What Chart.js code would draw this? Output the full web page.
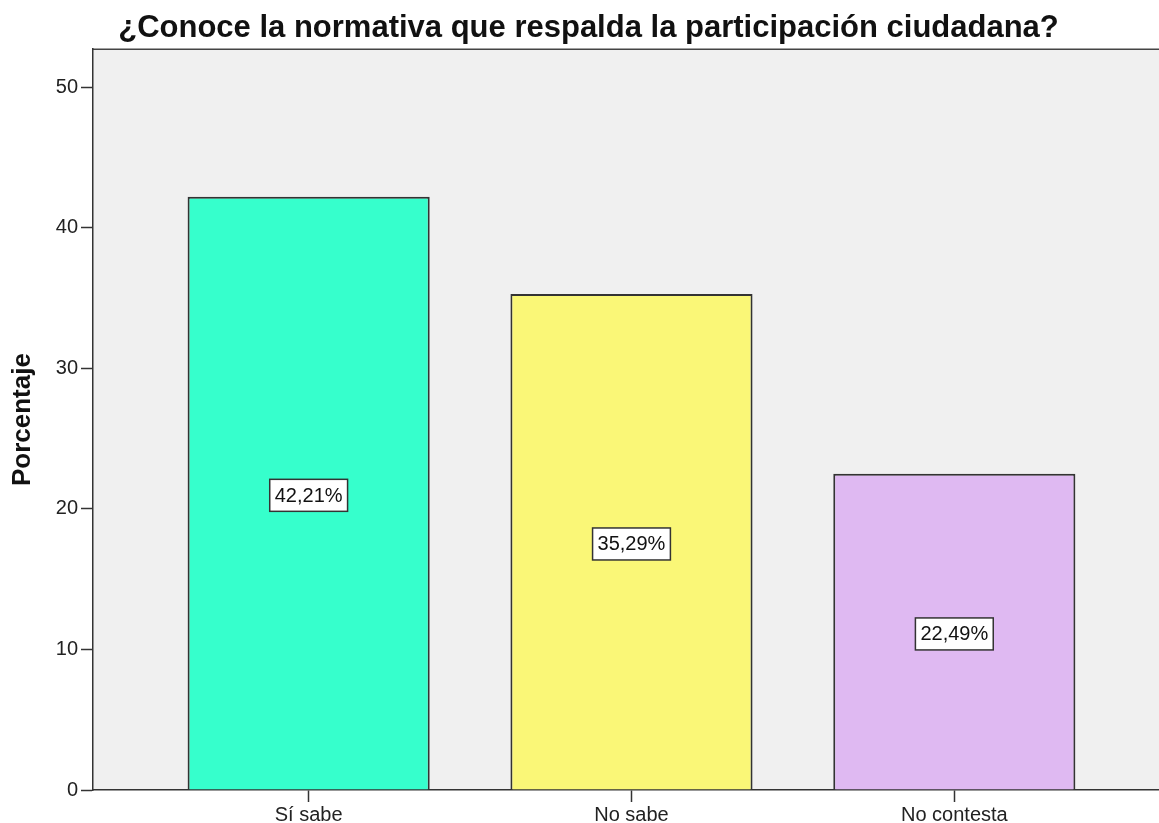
<!DOCTYPE html>
<html>
<head>
<meta charset="utf-8">
<script src="https://cdn.jsdelivr.net/npm/chart.js@4.4.0/dist/chart.umd.min.js"></script>
<style>
  html, body { margin: 0; padding: 0; background: #fff; overflow: hidden; }
  #wrap { width: 1159px; height: 823px; }
</style>
</head>
<body>
<div id="wrap"><canvas id="myChart"></canvas></div>
<script>
var categories = ['Sí sabe', 'No sabe', 'No contesta'];
var percentages = [42.21, 35.29, 22.49];
var barColors = ['#36ffcc', '#faf777', '#dfb9f2'];
var yTicks = [0, 10, 20, 30, 40, 50];

var FONT = "'Liberation Sans', Arial, sans-serif";

// gray plot box behind the bars, with the top edge line
var plotBox = {
  id: 'plotBox',
  beforeDraw: function(chart) {
    var a = chart.chartArea, c = chart.ctx;
    c.save();
    c.fillStyle = '#f0f0f0';
    c.fillRect(a.left, a.top, a.right - a.left, a.bottom - a.top);
    c.strokeStyle = '#444';
    c.lineWidth = 1.5;
    c.beginPath();
    c.moveTo(a.left, a.top);
    c.lineTo(a.right, a.top);
    c.stroke();
    c.restore();
  }
};

// boxed percentage label in the middle of each bar
var midLabels = {
  id: 'midLabels',
  afterDatasetsDraw: function(chart) {
    var c = chart.ctx, yScale = chart.scales.y;
    var meta = chart.getDatasetMeta(0);
    c.save();
    c.font = '20px ' + FONT;
    c.textAlign = 'center';
    c.textBaseline = 'middle';
    meta.data.forEach(function(bar, i) {
      var v = percentages[i];
      var txt = v.toFixed(2).replace('.', ',') + '%';
      var y = yScale.getPixelForValue(v / 2) + 2;
      var w = c.measureText(txt).width + 10, h = 32;
      c.fillStyle = '#fff';
      c.fillRect(bar.x - w / 2, y - h / 2, w, h);
      c.strokeStyle = '#333';
      c.lineWidth = 1.5;
      c.strokeRect(bar.x - w / 2, y - h / 2, w, h);
      c.fillStyle = '#111';
      c.fillText(txt, bar.x, y + 1);
    });
    c.restore();
  }
};

var ctx = document.getElementById('myChart').getContext('2d');
var myChart = new Chart(ctx, {
  type: 'bar',
  data: {
    datasets: [{
      data: percentages.map(function(v, i) { return {x: i, y: v}; }),
      backgroundColor: barColors,
      borderColor: '#333',
      borderWidth: 2,
      categoryPercentage: 0.75,
      barPercentage: 1
    }]
  },
  options: {
    responsive: true,
    maintainAspectRatio: false,
    animation: false,
    layout: { padding: { left: 0, right: -18, top: 0, bottom: 0 } },
    plugins: {
      legend: { display: false },
      tooltip: { enabled: false },
      title: {
        display: true,
        text: '¿Conoce la normativa que respalda la participación ciudadana?',
        color: '#111',
        font: { family: FONT, size: 31, weight: 'bold', lineHeight: 1.2 },
        padding: { top: 10, bottom: 2 }
      }
    },
    scales: {
      x: {
        type: 'linear',
        min: -0.668,
        max: 2.634,
        offset: false,
        afterBuildTicks: function(scale) {
          scale.ticks = categories.map(function(c, i) { return {value: i}; });
        },
        afterFit: function(scale) { scale.height = 33; },
        ticks: {
          autoSkip: false,
          maxRotation: 0,
          padding: 1,
          color: '#222',
          font: { family: FONT, size: 20 },
          callback: function(value) { return categories[value]; }
        },
        grid: { offset: false, drawOnChartArea: false, drawTicks: true, tickLength: 12, tickColor: '#333', tickWidth: 1.5 },
        border: { display: true, color: '#333', width: 1.5 }
      },
      y: {
        min: 0,
        max: 52.7,
        afterBuildTicks: function(scale) {
          scale.ticks = yTicks.map(function(v) { return {value: v}; });
        },
        afterFit: function(scale) { scale.width = 93; },
        ticks: {
          padding: 3,
          color: '#222',
          font: { family: FONT, size: 20 }
        },
        grid: { drawOnChartArea: false, drawTicks: true, tickLength: 12, tickColor: '#333', tickWidth: 1.5 },
        border: { display: true, color: '#333', width: 1.5 },
        title: {
          display: true,
          text: 'Porcentaje',
          color: '#111',
          font: { family: FONT, size: 26, weight: 'bold', lineHeight: 1.2 },
          padding: { top: 7, bottom: 0 }
        }
      }
    }
  },
  plugins: [plotBox, midLabels]
});
</script>
</body>
</html>
